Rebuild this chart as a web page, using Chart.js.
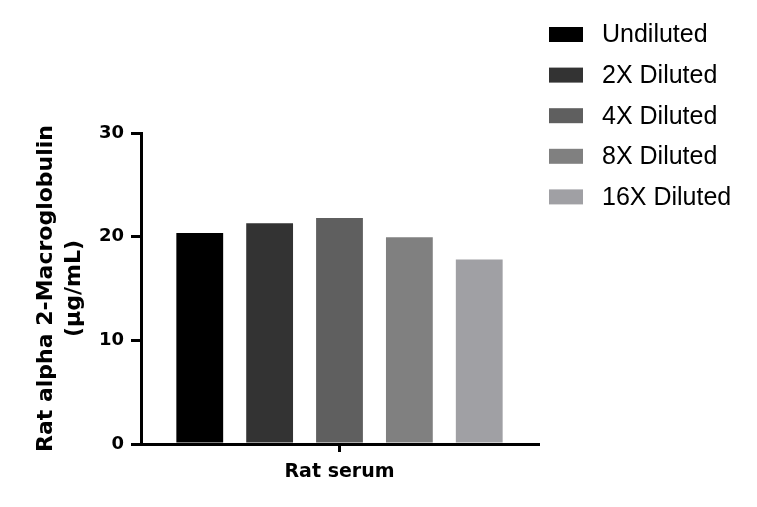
<!DOCTYPE html>
<html>
<head>
<meta charset="utf-8">
<script src="https://cdn.jsdelivr.net/npm/chart.js@4.4.0/dist/chart.umd.min.js"></script>
<style>
    body { margin: 0; background: #ffffff; }
    #wrap { width: 757px; height: 507px; }
</style>
</head>
<body>
<div id="wrap"><canvas id="graficoSoro" width="757" height="507"></canvas></div>
<script>
const categorias = ['Rat serum'];
const diluicoes = ['Undiluted', '2X Diluted', '4X Diluted', '8X Diluted', '16X Diluted'];
const valores = [20.35, 21.3, 21.8, 19.95, 17.8];
const cores = ['#000000', '#333333', '#5f5f5f', '#808080', '#a0a0a4'];
const ticksY = [0, 10, 20, 30];
const tituloY = ['Rat alpha 2-Macroglobulin', '(µg/mL)'];

const fonteNegrito = "'DejaVu Sans', sans-serif";
const fonteLegenda = "'Liberation Sans', Arial, sans-serif";

// legenda desenhada à mão para ficar na mesma posição da figura
const legendaPlugin = {
    id: 'legendaLateral',
    afterDraw(chart) {
        const ctx = chart.ctx;
        ctx.save();
        ctx.font = '25px ' + fonteLegenda;
        ctx.textBaseline = 'middle';
        ctx.textAlign = 'left';
        chart.data.datasets.forEach((ds, i) => {
            const y = 34.5 + i * 40.6;
            ctx.fillStyle = ds.backgroundColor;
            ctx.fillRect(549, y - 7.5, 34, 15);
            ctx.fillStyle = '#000000';
            ctx.fillText(ds.label, 602, y + 1);
        });
        ctx.restore();
    }
};

const ctx = document.getElementById('graficoSoro').getContext('2d');

new Chart(ctx, {
    type: 'bar',
    data: {
        labels: categorias,
        datasets: diluicoes.map((nome, i) => ({
            label: nome,
            data: [valores[i]],
            backgroundColor: cores[i],
            borderWidth: 0,
            categoryPercentage: 0.88,
            barPercentage: 0.67
        }))
    },
    options: {
        responsive: false,
        animation: false,
        layout: {
            padding: { top: 133, right: 219, left: 0, bottom: 0 }
        },
        plugins: {
            legend: { display: false },
            tooltip: { enabled: false }
        },
        scales: {
            x: {
                afterFit: scale => { scale.height = 63; },
                grid: {
                    display: true,
                    offset: false,
                    drawOnChartArea: false,
                    drawTicks: true,
                    tickLength: 8,
                    color: '#000000',
                    lineWidth: 3
                },
                border: { display: true, color: '#000000', width: 3 },
                ticks: {
                    color: '#000000',
                    padding: 9,
                    font: { family: fonteNegrito, size: 19, weight: 'bold' }
                }
            },
            y: {
                min: 0,
                max: 30,
                afterFit: scale => { scale.width = 141; },
                afterBuildTicks: scale => {
                    scale.ticks = ticksY.map(v => ({ value: v }));
                },
                grid: {
                    display: true,
                    drawOnChartArea: false,
                    drawTicks: true,
                    tickLength: 10,
                    color: '#000000',
                    lineWidth: 3
                },
                border: { display: true, color: '#000000', width: 3 },
                ticks: {
                    color: '#000000',
                    padding: 7,
                    font: { family: fonteNegrito, size: 18, weight: 'bold' }
                },
                title: {
                    display: true,
                    text: tituloY,
                    color: '#000000',
                    padding: { top: 32, bottom: 0 },
                    font: { family: fonteNegrito, size: 22, weight: 'bold', lineHeight: 1.27 }
                }
            }
        }
    },
    plugins: [legendaPlugin]
});
</script>
</body>
</html>
